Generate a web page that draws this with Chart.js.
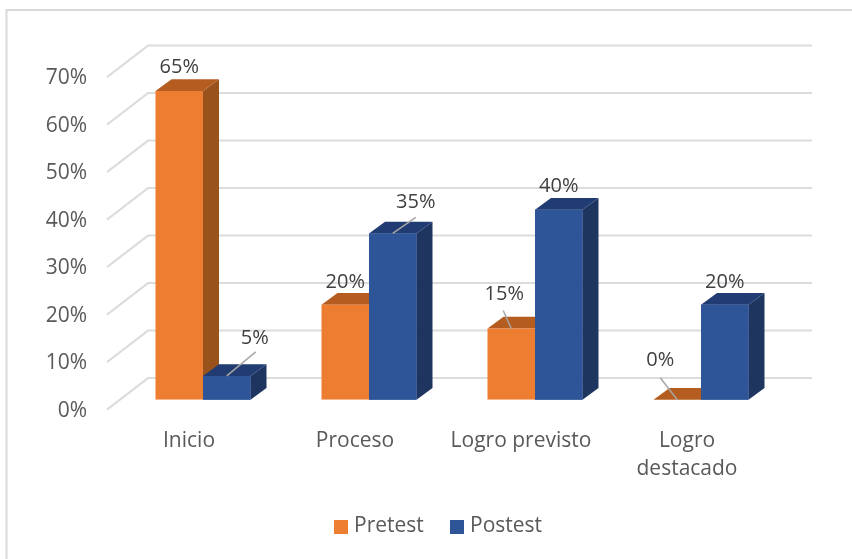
<!DOCTYPE html>
<html><head><meta charset="utf-8">
<style>html,body{margin:0;padding:0;background:#fff}canvas{display:block}</style>
<script src="https://cdn.jsdelivr.net/npm/chart.js@4"></script>
</head><body><canvas id="c" width="852" height="559"></canvas>
<script>
const categories = ["Inicio","Proceso","Logro previsto",["Logro","destacado"]];
const seriesNames = ["Pretest","Postest"];
const pretest = [65,20,15,0];
const postest = [5,35,40,20];
const tickStep = 10;
const axisMax = 70;

const FONT = '"Open Sans", sans-serif';
const palette = [
  {front:'#ed7d31', side:'#9a521c', top:'#b55d20'},
  {front:'#2e5597', side:'#1e3560', top:'#203c73'}
];
const BAR_DX = 16, BAR_DY = 11.8;
const labelPlacement = [
  [[0,-24],[0,-22],[-7,-34],[-17,-39]],
  [[28,-38],[23,-31],[0,-23],[0,-22]]
];
const leaders = [
  [null,null,[-8,-18],[-17,-22]],
  [[29,-24],[23,-16],null,null]
];
const legendSlots = [334,450];

function drawFaces(chart,i){
  const c = chart.ctx, col = palette[i];
  const base = chart.scales.y.getPixelForValue(0);
  chart.getDatasetMeta(i).data.forEach(b=>{
    const l = b.x-b.width/2, r = b.x+b.width/2, t = b.y;
    c.fillStyle = col.side;
    c.beginPath(); c.moveTo(r,t); c.lineTo(r+BAR_DX,t-BAR_DY); c.lineTo(r+BAR_DX,base-BAR_DY); c.lineTo(r,base); c.closePath(); c.fill();
    c.fillStyle = col.top;
    c.beginPath(); c.moveTo(l,t); c.lineTo(l+BAR_DX,t-BAR_DY); c.lineTo(r+BAR_DX,t-BAR_DY); c.lineTo(r,t); c.closePath(); c.fill();
  });
}

const scene3d = {
  id:'scene3d',
  beforeDraw(chart){
    const c = chart.ctx, W = chart.width, H = chart.height;
    c.save();
    c.strokeStyle = '#d9d9d9'; c.lineWidth = 2;
    c.beginPath(); c.moveTo(W,10); c.lineTo(6.5,10); c.lineTo(6.5,H); c.stroke();
    const y = chart.scales.y;
    c.strokeStyle = '#dcdcdc'; c.lineWidth = 2;
    for(let v=0;v<=axisMax;v+=tickStep){
      const p = y.getPixelForValue(v);
      c.beginPath();
      c.moveTo(107,p+9.9); c.lineTo(148,p-21.6); c.lineTo(812,p-21.6);
      c.stroke();
    }
    c.restore();
  },
  beforeDatasetDraw(chart,args){
    // Chart.js paints the last dataset first, so Pretest's faces go in just before Pretest's fronts
    if(args.index===0){ const c=chart.ctx; c.save(); drawFaces(chart,0); c.restore(); }
  },
  afterDatasetsDraw(chart){
    const c = chart.ctx;
    c.save();
    // Postest stands in front of Pretest's side faces: paint it last
    drawFaces(chart,1);
    chart.getDatasetMeta(1).data.forEach(b=>b.draw(c));
    chart.data.datasets.forEach((ds,i)=>{
      chart.getDatasetMeta(i).data.forEach((b,j)=>{
        const lead = leaders[i][j];
        if(lead){
          c.strokeStyle='#a6a6a6'; c.lineWidth=1.5;
          c.beginPath(); c.moveTo(b.x,b.y); c.lineTo(b.x+lead[0],b.y+lead[1]); c.stroke();
        }
        const pl = labelPlacement[i][j];
        c.fillStyle='#404040'; c.font='20px '+FONT; c.textAlign='center'; c.textBaseline='middle';
        c.fillText(ds.data[j]+'%', b.x+pl[0], b.y+pl[1]);
      });
    });
    seriesNames.forEach((name,i)=>{
      c.fillStyle = palette[i].front;
      c.fillRect(legendSlots[i],520,14,14);
      c.fillStyle = '#595959'; c.font='21px '+FONT; c.textAlign='left'; c.textBaseline='middle';
      c.fillText(name, legendSlots[i]+20, 526);
    });
    c.restore();
  }
};

new Chart(document.getElementById('c'),{
  type:'bar',
  data:{labels:categories,datasets:[
    {label:seriesNames[0],data:pretest,backgroundColor:palette[0].front},
    {label:seriesNames[1],data:postest,backgroundColor:palette[1].front}
  ]},
  options:{
    responsive:false,animation:false,
    events:[],
    layout:{padding:{left:0,right:68,top:67.2,bottom:13}},
    datasets:{bar:{barPercentage:1,categoryPercentage:0.5723}},
    scales:{
      x:{
        grid:{display:false,drawTicks:false},border:{display:false},
        ticks:{autoSkip:false,maxRotation:0,minRotation:0,labelOffset:-14,padding:27,color:'#595959',
               font:{family:FONT,size:21,lineHeight:1.33}},
        afterFit(s){s.height=146.3;}
      },
      y:{
        min:0,max:axisMax,
        grid:{display:false,drawTicks:false},border:{display:false},
        ticks:{stepSize:tickStep,padding:33,labelOffset:11,color:'#595959',
               font:{family:FONT,size:21},callback:v=>v+'%'},
        afterFit(s){s.width=120;}
      }
    },
    plugins:{
      legend:{display:false},
      tooltip:{enabled:false}
    }
  },
  plugins:[scene3d]
});
</script></body></html>
